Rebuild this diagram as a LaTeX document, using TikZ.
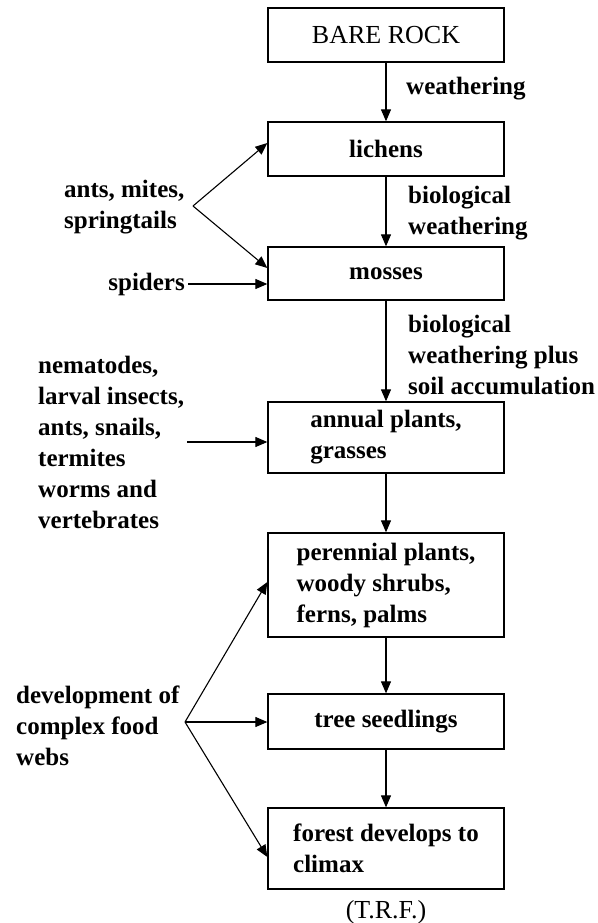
\documentclass[tikz,border=0pt]{standalone}
\usepackage{fontspec}
\setmainfont{Liberation Serif}
\usetikzlibrary{arrows.meta}
\begin{document}
\begin{tikzpicture}[x=1pt,y=-1pt,
  font=\fontsize{25}{31}\selectfont\bfseries,
  stage/.style={draw, line width=1.3pt, minimum width=236pt, align=left, inner sep=0pt},
  lbl/.style={align=left, inner sep=0pt, anchor=west},
  flow/.style={line width=1.1pt, -{Triangle[length=12pt,width=10pt]}},
  plain/.style={font=\fontsize{26}{31}\selectfont}
]
\useasboundingbox[fill=white] (0,0) rectangle (597,923);

% succession stages
\node[stage, plain, minimum height=54pt] (rock) at (386,35) {BARE ROCK};
\node[stage, minimum height=54pt] (lichens) at (386,149) {lichens};
\node[stage, minimum height=53pt] (mosses) at (386,273.5) {mosses};
\node[stage, minimum height=71pt] (annual) at (386,437.5) {annual plants,\\grasses};
\node[stage, minimum height=104pt] (perennial) at (386,585) {perennial plants,\\woody shrubs,\\ferns, palms};
\node[stage, minimum height=55pt] (seedlings) at (386,721.5) {tree seedlings};
\node[stage, minimum height=81pt] (forest) at (386,848.5) {forest develops to\\climax};
\node[plain, inner sep=0pt] (trf) at (386,912) {(T.R.F.)};

% main sequence
\draw[flow] (rock) -- (lichens);
\draw[flow] (lichens) -- (mosses);
\draw[flow] (mosses) -- (annual);
\draw[flow] (annual) -- (perennial);
\draw[flow] (perennial) -- (seedlings);
\draw[flow] (seedlings) -- (forest);

% process labels
\node[lbl] (w1) at (406,89) {weathering};
\node[lbl] (w2) at (408,213.5) {biological\\weathering};
\node[lbl] (w3) at (408,355) {biological\\weathering plus\\soil accumulation};

% organisms arriving at each stage
\node[lbl] (ants) at (64,207) {ants, mites,\\springtails};
\coordinate (antsfork) at (193,206);
\draw[flow] (antsfork) -- ([yshift=6pt]lichens.west);
\draw[flow] (antsfork) -- ([yshift=5.5pt]mosses.west);

\node[inner sep=0pt, anchor=east] (spiders) at (185,284) {spiders};
\draw[flow] ([xshift=3pt]spiders.east) -- (spiders.east -| mosses.west);

\node[lbl] (nema) at (38,442) {nematodes,\\larval insects,\\ants, snails,\\termites\\worms and\\vertebrates};
\draw[flow] ([xshift=3pt]nema.east) -- (nema.east -| annual.west);

\node[lbl] (dev) at (16,726) {development of\\complex food\\webs};
\coordinate (devfork) at (185,722);
\draw[flow] (devfork) -- ([yshift=3pt]perennial.west);
\draw[flow] (devfork) -- (devfork -| seedlings.west);
\draw[flow] (devfork) -- ([yshift=-8.5pt]forest.west);
\end{tikzpicture}
\end{document}
